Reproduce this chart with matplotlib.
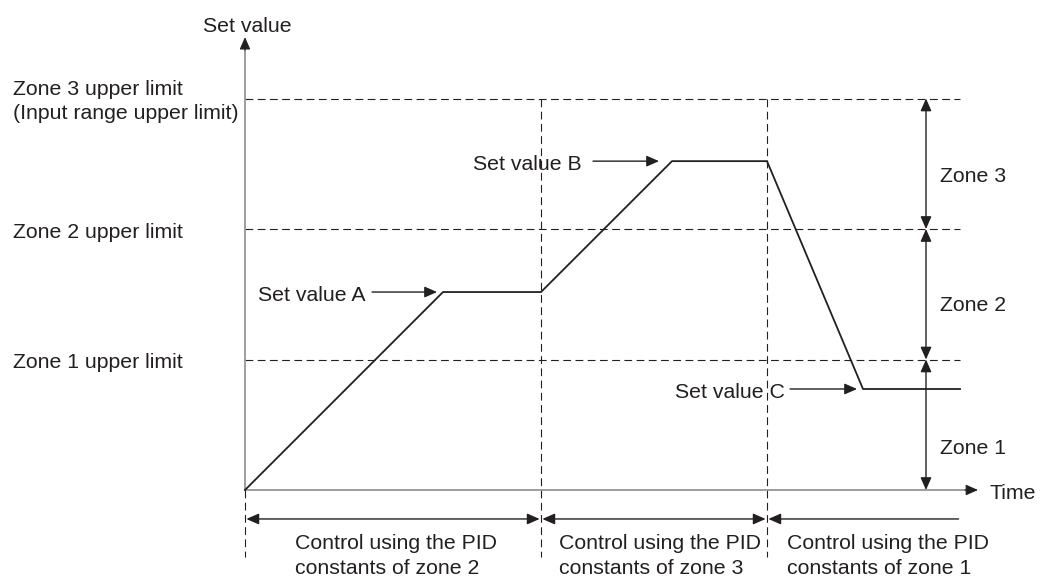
import matplotlib
matplotlib.use('Agg')
import matplotlib.pyplot as plt

plt.rcParams['font.family'] = ['Liberation Sans', 'DejaVu Sans']

# set value profile (time, value); zone limits are 1, 2, 3
profile_t = [0, 1.98, 2.96, 4.27, 5.22, 6.18, 7.15]
profile_v = [0, 1.517, 1.517, 2.52, 2.52, 0.774, 0.774]

zone_limits = [1, 2, 3]
zone_limit_labels = ['Zone 1 upper limit', 'Zone 2 upper limit',
                     'Zone 3 upper limit\n(Input range upper limit)']
zone_names = ['Zone 1', 'Zone 2', 'Zone 3']

# time at which the PID constants switch over
switch_t = [0, 2.96, 5.22, 7.15]
control_labels = ['Control using the PID\nconstants of zone 2',
                  'Control using the PID\nconstants of zone 3',
                  'Control using the PID\nconstants of zone 1']

set_value_names = ['Set value A', 'Set value B', 'Set value C']
set_value_pts = [(1.98, 1.517), (4.27, 2.52), (6.18, 0.774)]

# layout of the annotations
callout_gap = [0.06, 0.13, 0.06]
callout_len = [0.65, 0.66, 0.67]
callout_pad = [0.07, 0.11, 0.05]
zone_name_v = [0.345, 1.44, 2.43]
control_x = [0.50, 0.18, 0.20]

FS = 15.3
DARK = '#231f20'
GREY = '#8c8c8c'
DASH = (0, (7, 4))
TY = -0.025  # nudge so capitals sit centred on their line
HEAD = 'head_length=0.75,head_width=0.33'

fig = plt.figure(figsize=(10.43, 5.77), dpi=100)
ax = fig.add_axes([0, 0, 1, 1])
ax.axis('off')
# 100 px per time unit, 130.5 px per zone
ax.set_xlim(-2.45, 7.98)
ax.set_ylim(-87 / 130.5, 490 / 130.5)

t_end = 7.15
v_bottom = -0.513
arrow_y = -0.222

# axes with arrowheads
ax.plot([0, 0], [0, 3.42], color=GREY, lw=1.2, zorder=2)
ax.plot([0, 7.25], [0, 0], color=GREY, lw=1.2, zorder=2)
ax.annotate('', xy=(0, 3.47), xytext=(0, 3.37),
            arrowprops=dict(arrowstyle='-|>,' + HEAD,
                            color=DARK, lw=0.8, shrinkA=0, shrinkB=0))
ax.annotate('', xy=(7.33, 0), xytext=(7.2, 0),
            arrowprops=dict(arrowstyle='-|>,' + HEAD,
                            color=DARK, lw=0.8, shrinkA=0, shrinkB=0))
ax.text(0.02, 3.555, 'Set value', fontsize=FS, color=DARK, ha='center', va='center')
ax.text(7.45, TY, 'Time', fontsize=FS, color=DARK, ha='left', va='center')

# zone limit lines
for v, lab in zip(zone_limits, zone_limit_labels):
    ax.plot([0, t_end], [v, v], color=DARK, lw=0.8, ls=DASH, zorder=1)
    ax.text(-2.32, v + TY, lab, fontsize=FS, color=DARK, ha='left', va='center',
            linespacing=1.35)

# switch-over lines
ax.plot([0, 0], [0, v_bottom], color=DARK, lw=0.8, ls=DASH)
for t in switch_t[1:3]:
    ax.plot([t, t], [zone_limits[-1], v_bottom], color=DARK, lw=0.8,
            ls=DASH, zorder=1)

# set value profile
ax.plot(profile_t, profile_v, color=DARK, lw=1.3, zorder=3)

# set value callouts
for i, (name, (t, v)) in enumerate(zip(set_value_names, set_value_pts)):
    tip = t - callout_gap[i]
    tail = tip - callout_len[i]
    ax.annotate('', xy=(tip, v), xytext=(tail, v),
                arrowprops=dict(arrowstyle='-|>,' + HEAD,
                                color=DARK, lw=1.0, shrinkA=0, shrinkB=0))
    ax.text(tail - callout_pad[i], v + TY, name, fontsize=FS, color=DARK,
            ha='right', va='center')

# zone range arrows
zx = 6.81
bounds = [0] + zone_limits
for lo, hi, name, nv in zip(bounds[:-1], bounds[1:], zone_names, zone_name_v):
    ax.annotate('', xy=(zx, hi), xytext=(zx, lo),
                arrowprops=dict(arrowstyle='<|-|>,' + HEAD,
                                color=DARK, lw=1.0, shrinkA=0, shrinkB=0))
    ax.text(zx + 0.14, nv + TY, name, fontsize=FS, color=DARK,
            ha='left', va='center')

# control period arrows
for i, lab in enumerate(control_labels):
    a, b = switch_t[i], switch_t[i + 1]
    style = '<|-' if i == len(control_labels) - 1 else '<|-|>'
    ax.annotate('', xy=(b, arrow_y), xytext=(a, arrow_y),
                arrowprops=dict(arrowstyle=style + ',' + HEAD,
                                color=DARK, lw=1.0, shrinkA=1, shrinkB=1))
    ax.text(a + control_x[i], -0.505, lab, fontsize=FS, color=DARK,
            ha='left', va='center', linespacing=1.35)

fig.savefig('out.png', dpi=100)
plt.close(fig)
